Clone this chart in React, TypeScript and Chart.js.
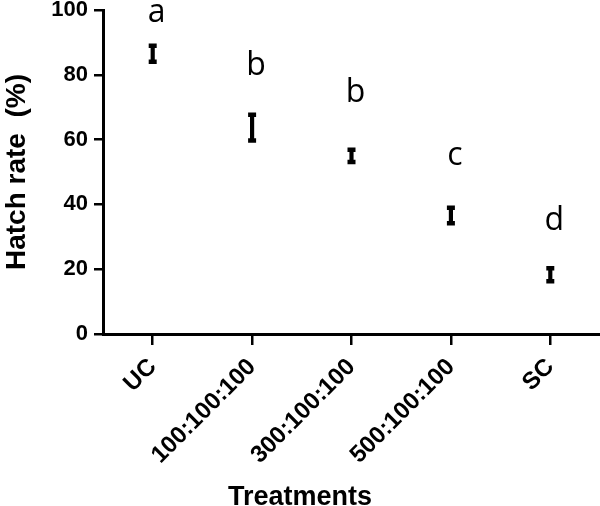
import React, { useEffect, useRef } from "react";
import { Chart, registerables } from "chart.js";

Chart.register(...registerables);

const treatments = ["UC", "100:100:100", "300:100:100", "500:100:100", "SC"];
const hatchMeans = [86.5, 63.7, 55.0, 36.6, 18.3];
const hatchErrors = [2.5, 4.0, 1.9, 2.4, 2.0];
const groupLetters = ["a", "b", "b", "c", "d"];
const groupLetterY = [96.3, 79.9, 71.6, 52.2, 32.1];
const yTicks = [0, 20, 40, 60, 80, 100];

const AXIS_FONT = "'Liberation Sans', Arial, Helvetica, sans-serif";

const lows = hatchMeans.map((m, i) => m - hatchErrors[i]);
const highs = hatchMeans.map((m, i) => m + hatchErrors[i]);

const zeroPadding = (s: any) => {
  s.paddingLeft = 0;
  s.paddingRight = 0;
  s.paddingTop = 0;
  s.paddingBottom = 0;
};

const annotationsPlugin = {
  id: "annotations",
  afterDraw(chart: any) {
    const { ctx } = chart;
    const xs = chart.scales.x;
    const ys = chart.scales.y;
    ctx.save();
    ctx.fillStyle = "#000";
    ctx.font = "32px 'Open Sans', 'Noto Sans', sans-serif";
    ctx.textAlign = "center";
    ctx.textBaseline = "alphabetic";
    groupLetters.forEach((l, i) => {
      ctx.fillText(l, xs.getPixelForValue(i) + 4, ys.getPixelForValue(groupLetterY[i]));
    });
    ctx.font = `bold 27px ${AXIS_FONT}`;
    ctx.textBaseline = "alphabetic";
    ctx.fillText("Treatments", chart.width / 2, chart.height - 1);
    ctx.restore();
  },
};

export default function App() {
  const ref = useRef<HTMLCanvasElement>(null);
  useEffect(() => {
    document.body.style.margin = "0";
    if (!ref.current) return;
    const chart = new Chart(ref.current, {
      type: "bar",
      data: {
        labels: treatments,
        datasets: [
          {
            type: "bar",
            data: lows.map((l, i) => [l, highs[i]]) as any,
            backgroundColor: "#000",
            barThickness: 3.5,
            borderWidth: 0,
          } as any,
          {
            type: "line",
            data: highs,
            showLine: false,
            pointStyle: "line",
            pointRadius: 4,
            pointBorderWidth: 4.5,
            borderColor: "#000",
            backgroundColor: "#000",
          } as any,
          {
            type: "line",
            data: lows,
            showLine: false,
            pointStyle: "line",
            pointRadius: 4,
            pointBorderWidth: 4.5,
            borderColor: "#000",
            backgroundColor: "#000",
          } as any,
        ],
      },
      options: {
        animation: false,
        responsive: false,
        layout: { autoPadding: false, padding: { top: 10, right: 0, left: 0, bottom: 0 } },
        plugins: {
          legend: { display: false },
          tooltip: { enabled: false },
        },
        scales: {
          x: {
            offset: true,
            grid: {
              offset: false,
              drawOnChartArea: false,
              drawTicks: true,
              tickLength: 11,
              color: "#000",
              lineWidth: 2.5,
            },
            border: { display: true, color: "#000", width: 3 },
            ticks: {
              color: "#000",
              font: { family: AXIS_FONT, size: 24, weight: "bold" },
              maxRotation: 45,
              minRotation: 45,
              padding: 8,
              autoSkip: false,
            },
            afterFit: (s: any) => {
              zeroPadding(s);
              s.height = 172;
            },
          },
          y: {
            min: 0,
            max: 100,
            afterBuildTicks: (s: any) => {
              s.ticks = yTicks.map((v) => ({ value: v }));
            },
            grid: {
              drawOnChartArea: false,
              drawTicks: true,
              tickLength: 9,
              color: "#000",
              lineWidth: 2.5,
            },
            border: { display: true, color: "#000", width: 3 },
            ticks: {
              color: "#000",
              font: { family: AXIS_FONT, size: 22, weight: "bold" },
              padding: 6,
            },
            title: {
              display: true,
              text: "Hatch rate  (%)",
              color: "#000",
              font: { family: AXIS_FONT, size: 28, weight: "bold" },
              padding: { top: 0, bottom: 0 },
            },
            afterFit: (s: any) => {
              zeroPadding(s);
              s.width = 103;
            },
          },
        },
      },
      plugins: [annotationsPlugin],
    });
    return () => chart.destroy();
  }, []);
  return (
    <div style={{ width: 600, height: 506 }}>
      <canvas ref={ref} width={600} height={506} style={{ width: 600, height: 506 }} />
    </div>
  );
}
